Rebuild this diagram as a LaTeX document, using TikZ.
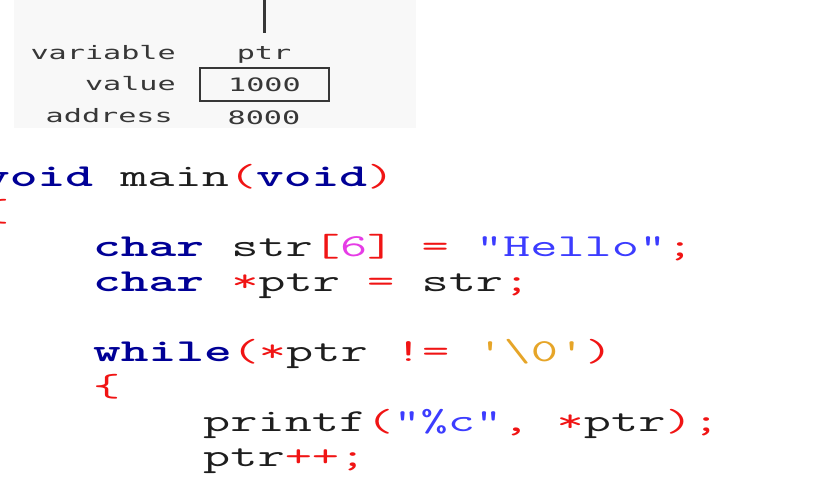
\documentclass[tikz,border=0pt]{standalone}
\usepackage{fontspec}
\usepackage{graphicx}
\usepackage{xcolor}
\newfontfamily\labelfont{DejaVu Sans Mono}
\definecolor{kwblue}{RGB}{0,0,150}
\definecolor{opred}{RGB}{240,20,20}
\definecolor{strblue}{RGB}{60,60,255}
\definecolor{numpink}{RGB}{230,60,230}
\definecolor{chrorange}{RGB}{230,165,40}
\definecolor{idgray}{RGB}{30,30,30}
\definecolor{labelgray}{RGB}{55,55,55}
\definecolor{panelgray}{RGB}{248,248,248}
\newcommand{\ckw}[1]{\textcolor{kwblue}{\bfseries #1}}
\newcommand{\cop}[1]{\textcolor{opred}{#1}}
\newcommand{\cstr}[1]{\textcolor{strblue}{#1}}
\newcommand{\cnum}[1]{\textcolor{numpink}{#1}}
\newcommand{\cchr}[1]{\textcolor{chrorange}{#1}}
\newcommand{\widelbl}[1]{\scalebox{1.63}[1]{#1}}
\newcommand{\widecode}[1]{\scalebox{1.65}[1]{#1}}
\begin{document}
\begin{tikzpicture}[x=1pt,y=-1pt,
    lbl/.style={font=\labelfont\fontsize{18.5}{18.5}\selectfont, text=labelgray, inner sep=0},
    code/.style={font=\ttfamily\fontsize{32}{32}\selectfont, text=idgray, anchor=base west, inner sep=0}]
                \clip (0,0) rectangle (825,480);
                \fill[panelgray] (14,0) rectangle (416,128);
                % the variable ptr
                \node[lbl, anchor=base east] (var) at (176,59) {\widelbl{variable}};
                \node[lbl, anchor=base east] (val) at (176,90) {\widelbl{value}};
                \node[lbl, anchor=base east] (addr) at (173,122) {\widelbl{address}};
                \node[lbl, anchor=base] (ptrname) at (264,59) {\widelbl{ptr}};
                \node[lbl, draw=labelgray, line width=1.2pt, minimum width=129pt, minimum height=33pt] (ptrval) at (264.5,84.5) {\widelbl{1000}};
                \node[lbl, anchor=base] (ptraddr) at (264,124) {\widelbl{8000}};
                \coordinate (ptrtop) at (264,0);
                \draw[labelgray, line width=3pt, shorten >=13pt] (ptrtop) -- (ptrname.north);
                % the code
                \node[code] (l1) at (-18,186) {\widecode{\ckw{void}\ main\cop{(}\ckw{void}\cop{)}}};
                \node[code] (l2) at (-18,221) {\widecode{\cop{\{}}};
                \node[code] (l3) at (93,256) {\widecode{\ckw{char}\ str\cop{[}\cnum{6}\cop{]}\ \cop{=}\ \cstr{\textquotedbl Hello\textquotedbl}\cop{;}}};
                \node[code] (l4) at (93,291) {\widecode{\ckw{char}\ \cop{*}ptr\ \cop{=}\ str\cop{;}}};
                \node[code] (l6) at (93,361) {\widecode{\ckw{while}\cop{(*}ptr\ \cop{!=}\ \cchr{\textquotesingle\textbackslash 0\textquotesingle}\cop{)}}};
                \node[code] (l7) at (93,396) {\widecode{\cop{\{}}};
                \node[code] (l8) at (203,431) {\widecode{printf\cop{(}\cstr{\textquotedbl\%c\textquotedbl}\cop{,}\ \cop{*}ptr\cop{);}}};
                \node[code] (l9) at (203,466) {\widecode{ptr\cop{++;}}};
            \end{tikzpicture}
\end{document}
